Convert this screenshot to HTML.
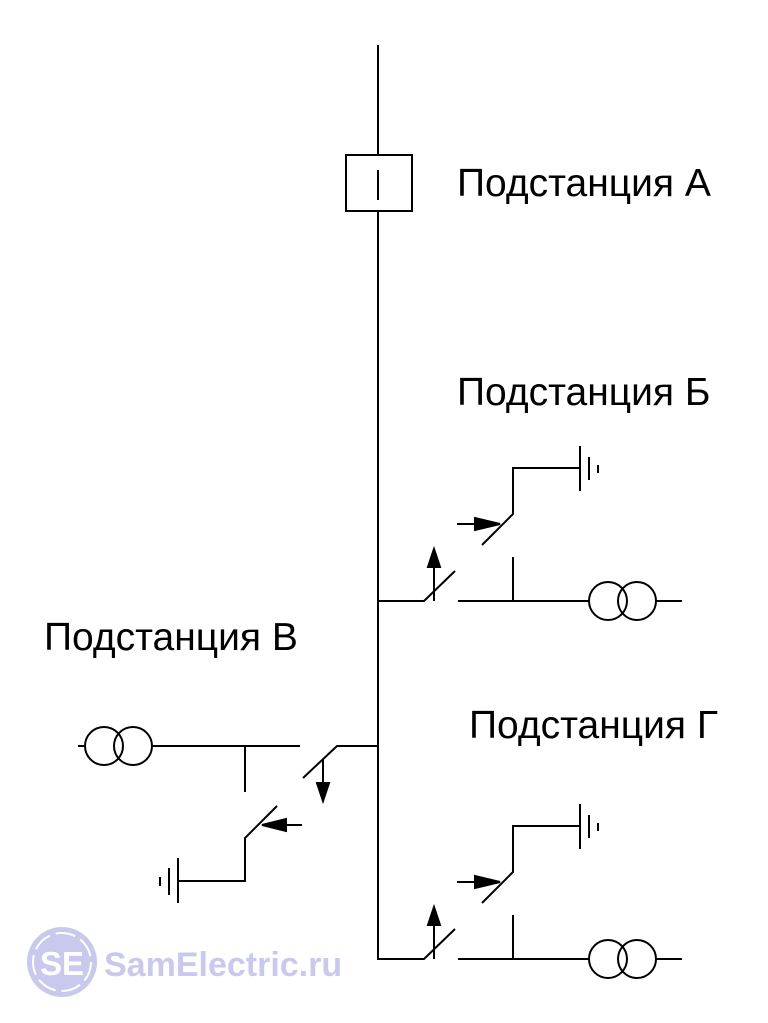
<!DOCTYPE html><html><head><style>body{margin:0;background:#fff}svg{display:block}</style></head><body>
<svg width="768" height="1023" xmlns="http://www.w3.org/2000/svg">
<g stroke="#000" stroke-width="2" fill="none">
<line x1="378" y1="45" x2="378" y2="960"/>
<rect x="346" y="155" width="66" height="56" fill="#fff"/>
<line x1="378" y1="170" x2="378" y2="200"/>
<g id="b">
<polyline points="378,601 424,601 455,571"/>
<line x1="434" y1="601" x2="434" y2="565"/>
<polyline points="458,601 589,601"/>
<line x1="513" y1="557" x2="513" y2="601"/>
<circle cx="608" cy="601" r="19"/><circle cx="637" cy="601" r="19"/>
<line x1="656" y1="601" x2="682" y2="601"/>
<polyline points="482,545 513,514 513,468 580,468"/>
<line x1="580" y1="446" x2="580" y2="491"/>
<line x1="589" y1="457" x2="589" y2="480"/>
<line x1="598" y1="465" x2="598" y2="473"/>
<line x1="457" y1="524" x2="480" y2="524"/>
<polygon points="434,549 428,567 440,567" fill="#000"/>
<polygon points="500,524 475,518 475,530" fill="#000"/>
</g>
<use href="#b" transform="translate(0,358)"/>
<polyline points="378,746 337,746 303,778"/>
<line x1="323" y1="760" x2="323" y2="785"/>
<polygon points="323,801 317,783 329,783" fill="#000"/>
<line x1="300" y1="746" x2="152" y2="746"/>
<line x1="245" y1="746" x2="245" y2="792"/>
<circle cx="104" cy="746" r="19"/><circle cx="133" cy="746" r="19"/>
<line x1="78" y1="746" x2="85" y2="746"/>
<polyline points="277,806 245,838 245,881 178,881"/>
<line x1="178" y1="858" x2="178" y2="903"/>
<line x1="169" y1="868" x2="169" y2="895"/>
<line x1="160" y1="877" x2="160" y2="886"/>
<line x1="302" y1="825" x2="280" y2="825"/>
<polygon points="262,825 286,819 286,831" fill="#000"/>
</g>
<g font-family="Liberation Sans, sans-serif" font-size="39" fill="#000">
<text x="457" y="196">Подстанция А</text>
<text x="457" y="405">Подстанция Б</text>
<text x="44" y="650">Подстанция В</text>
<text x="469" y="738">Подстанция Г</text>
</g>
<circle cx="62" cy="962" r="35" fill="#c9c9ee"/>
<circle cx="62" cy="962" r="29" fill="none" stroke="#fff" stroke-width="2" stroke-dasharray="20 6"/>
<text x="62" y="975" text-anchor="middle" font-family="Liberation Sans, sans-serif" font-weight="bold" font-size="33" fill="#fff">SE</text>
<text x="104" y="976" font-family="Liberation Sans, sans-serif" font-weight="bold" font-size="34" fill="#c9c9ee">SamElectric.ru</text>
</svg>
</body></html>
